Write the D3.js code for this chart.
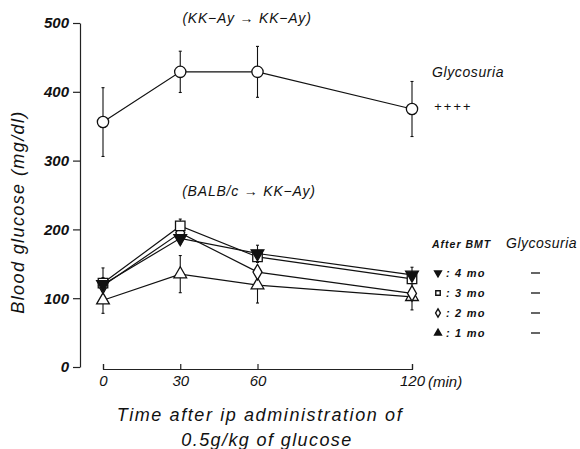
<!DOCTYPE html>
<html>
<head>
<meta charset="utf-8">
<script src="https://cdn.jsdelivr.net/npm/d3@7"></script>
<style>
  body { margin: 0; background: #fff; }
  text { font-family: "Liberation Sans", Arial, sans-serif; font-style: italic; fill: #111; }
</style>
</head>
<body>
<svg id="chart"></svg>
<script>
const times = [0, 30, 60, 120];
const yTicks = [0, 100, 200, 300, 400, 500];

// KK-Ay -> KK-Ay
const kkMean = [356, 429, 429, 375];
const kkErr = [50, 30, 37, 40];

// BALB/c -> KK-Ay, by months after BMT
const mo4Mean = [120, 187, 165, 134];
const mo4Err = [10, 8, 12, 11];
const mo3Mean = [122, 205, 160, 128];
const mo3Err = [22, 10, 8, 6];
const mo2Mean = [118, 195, 138, 107];
const mo2Err = [8, 6, 8, 6];
const mo1Mean = [97, 135, 119, 102];
const mo1Err = [19, 27, 26, 19];

const legendLabels = [": 4 mo", ": 3 mo", ": 2 mo", ": 1 mo"];

const width = 580, height = 449;

const svg = d3.select('#chart')
    .attr("width", width)
    .attr("height", height);

const x = d3.scaleLinear().domain([0, 120]).range([103, 412]);
const y = d3.scaleLinear().domain([0, 500]).range([367, 23]);

// y axis
const yAxis = svg.append("g")
    .attr("transform", "translate(80,0)")
    .call(d3.axisLeft(y).tickValues(yTicks).tickSizeInner(7).tickSizeOuter(0).tickPadding(4));
yAxis.selectAll("text").attr("font-size", 15).attr("font-weight", "bold").style("font-style", "italic");
yAxis.selectAll("line, path").attr("stroke", "#222").attr("stroke-width", 1.2);

// x axis (ticks point up)
const xAxis = svg.append("g")
    .attr("transform", "translate(0,369)")
    .call(d3.axisBottom(x).tickValues(times).tickSizeInner(-5).tickSizeOuter(-5).tickPadding(6));
xAxis.selectAll("text").attr("font-size", 15).style("font-style", "italic");
xAxis.selectAll("line, path").attr("stroke", "#222").attr("stroke-width", 1.2);

svg.append("text")
    .attr("x", 428).attr("y", 387)
    .attr("font-size", 15)
    .text("(min)");

// axis titles
svg.append("text")
    .attr("transform", "translate(24,212) rotate(-90)")
    .attr("text-anchor", "middle")
    .attr("font-size", 18)
    .attr("letter-spacing", 1.4)
    .text("Blood glucose (mg/dl)");

svg.append("text")
    .attr("x", 260).attr("y", 421)
    .attr("text-anchor", "middle")
    .attr("font-size", 18)
    .attr("letter-spacing", 1.6)
    .text("Time after ip administration of");

svg.append("text")
    .attr("x", 267).attr("y", 446)
    .attr("text-anchor", "middle")
    .attr("font-size", 18)
    .attr("letter-spacing", 1.4)
    .text("0.5g/kg of glucose");

// group labels
svg.append("text")
    .attr("x", 247).attr("y", 23)
    .attr("text-anchor", "middle")
    .attr("font-size", 14)
    .attr("letter-spacing", 0.8)
    .text("(KK\u2212Ay \u2192 KK\u2212Ay)");

svg.append("text")
    .attr("x", 249).attr("y", 196)
    .attr("text-anchor", "middle")
    .attr("font-size", 14)
    .attr("letter-spacing", 0.8)
    .text("(BALB/c \u2192 KK\u2212Ay)");

svg.append("text")
    .attr("x", 432).attr("y", 77)
    .attr("font-size", 14)
    .attr("letter-spacing", 0.6)
    .text("Glycosuria");
svg.append("text")
    .attr("x", 434).attr("y", 111)
    .attr("font-size", 13)
    .attr("letter-spacing", 2)
    .text("++++");

const seriesList = [
    {mean: kkMean, err: kkErr, symbol: d3.symbolCircle, size: 100, rot: 0, fill: "#fff"},
    {mean: mo1Mean, err: mo1Err, symbol: d3.symbolTriangle, size: 70, rot: 0, fill: "#fff"},
    {mean: mo2Mean, err: mo2Err, symbol: d3.symbolDiamond, size: 70, rot: 0, fill: "#fff"},
    {mean: mo3Mean, err: mo3Err, symbol: d3.symbolSquare, size: 90, rot: 0, fill: "#fff"},
    {mean: mo4Mean, err: mo4Err, symbol: d3.symbolTriangle, size: 70, rot: 180, fill: "#111"}
];

const line = d3.line()
    .x(function (d, i) { return x(times[i]); })
    .y(function (d) { return y(d); });

seriesList.forEach(function (s) {
    svg.append("path")
        .attr("d", line(s.mean))
        .attr("fill", "none")
        .attr("stroke", "#111")
        .attr("stroke-width", 1.2);
});

seriesList.forEach(function (s) {
    const g = svg.append("g");
    s.mean.forEach(function (m, i) {
        const cx = x(times[i]);
        g.append("line")
            .attr("x1", cx).attr("x2", cx)
            .attr("y1", y(m - s.err[i])).attr("y2", y(m + s.err[i]))
            .attr("stroke", "#111").attr("stroke-width", 1.1);
        [m - s.err[i], m + s.err[i]].forEach(function (v) {
            g.append("line")
                .attr("x1", cx - 1.5).attr("x2", cx + 1.5)
                .attr("y1", y(v)).attr("y2", y(v))
                .attr("stroke", "#111").attr("stroke-width", 1.1);
        });
    });
});

seriesList.forEach(function (s) {
    svg.append("g").selectAll("path")
        .data(s.mean)
        .enter()
        .append("path")
        .attr("d", d3.symbol().type(s.symbol).size(s.size))
        .attr("transform", function (d, i) {
            return "translate(" + x(times[i]) + "," + y(d) + ") rotate(" + s.rot + ")";
        })
        .attr("fill", s.fill)
        .attr("stroke", "#111")
        .attr("stroke-width", 1.3);
});

// legend
svg.append("text")
    .attr("x", 432).attr("y", 248)
    .attr("font-size", 10.5)
    .attr("font-weight", "bold")
    .attr("letter-spacing", 1)
    .text("After BMT");
svg.append("text")
    .attr("x", 506).attr("y", 248)
    .attr("font-size", 14)
    .attr("letter-spacing", 0.5)
    .text("Glycosuria");

const legendSymbols = [
    {symbol: d3.symbolTriangle, rot: 180},
    {symbol: d3.symbolSquare, rot: 0},
    {symbol: d3.symbolDiamond, rot: 0},
    {symbol: d3.symbolTriangle, rot: 0}
];

const legend = svg.append("g").selectAll("g")
    .data(legendLabels)
    .enter()
    .append("g")
    .attr("transform", function (d, i) { return "translate(0," + (273 + i * 20) + ")"; });

legend.append("path")
    .attr("d", function (d, i) { return d3.symbol().type(legendSymbols[i].symbol).size(20)(); })
    .attr("transform", function (d, i) { return "translate(438,0) rotate(" + legendSymbols[i].rot + ")"; })
    .attr("fill", function (d, i) { return i === 0 || i === 3 ? "#111" : "#fff"; })
    .attr("stroke", "#111")
    .attr("stroke-width", 1.4);

legend.append("text")
    .attr("x", 446).attr("y", 4)
    .attr("font-size", 11)
    .attr("font-weight", "bold")
    .attr("letter-spacing", 1.2)
    .text(function (d) { return d; });

legend.append("line")
    .attr("x1", 531).attr("x2", 540)
    .attr("y1", 0).attr("y2", 0)
    .attr("stroke", "#111")
    .attr("stroke-width", 1.3);
</script>
</body>
</html>
